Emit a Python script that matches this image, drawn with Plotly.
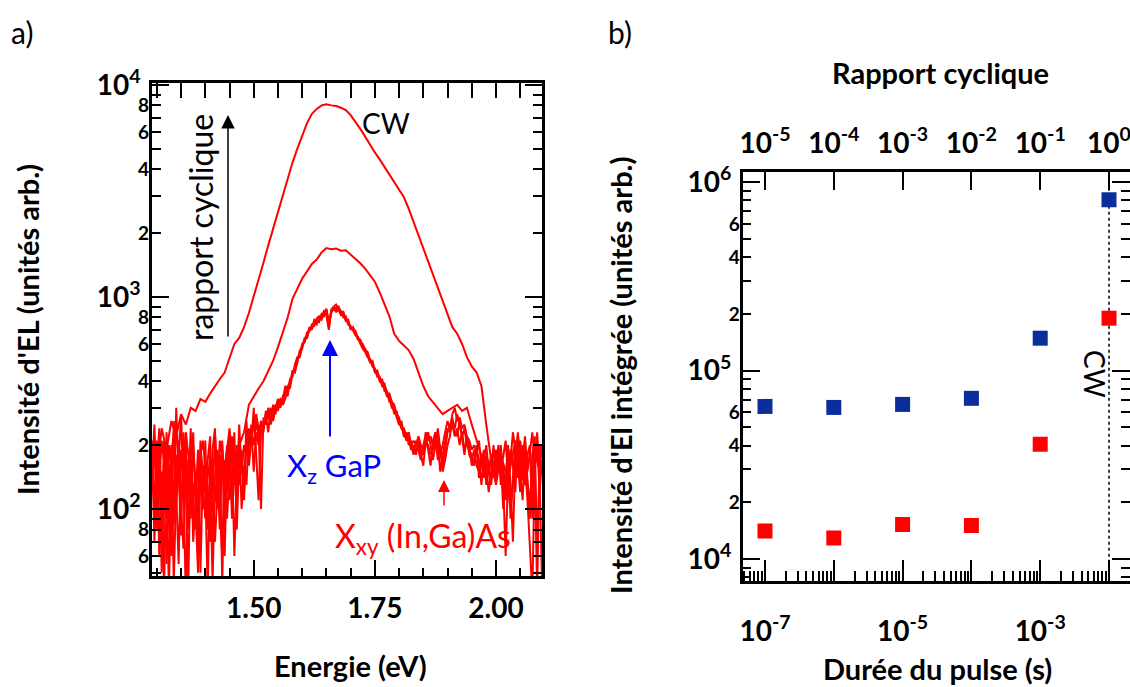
import numpy as np
import plotly.graph_objects as go

# ---------------- data ----------------
# energies (eV)
energy_fine = np.round(np.linspace(1.29, 2.095, 162), 3)   # 0.005 eV grid
energy_coarse = np.round(np.linspace(1.29, 2.09, 81), 3)   # 0.01 eV grid

# EL spectra (arb. units) for the different duty cycles
spec_1e5 = [180, 95, 210, 60, 150, 40, 230, 120, 70, 260, 110,
            55, 190, 140, 35, 170, 90, 200, 130, 60, 150, 100,
            210, 80, 160, 45, 140, 190, 100, 60, 170, 120, 230,
            90, 150, 200, 130, 170, 110, 220, 180, 250, 150, 230,
            200, 260, 240, 280, 230, 300, 270, 290, 320, 300, 340,
            360, 340, 400, 430, 470, 500, 540, 590, 620, 660, 700,
            720, 760, 740, 800, 780, 840, 820, 700, 860, 880, 850,
            870, 820, 830, 790, 760, 720, 700, 680, 640, 620, 590,
            560, 540, 500, 480, 450, 430, 410, 400, 380, 350, 330,
            310, 290, 280, 260, 240, 230, 210, 220, 200, 180, 210,
            190, 170, 200, 220, 190, 160, 210, 230, 200, 150, 180,
            210, 240, 230, 250, 220, 240, 200, 230, 190, 210, 180,
            170, 190, 160, 150, 175, 140, 180, 160, 130, 170, 150,
            190, 130, 160, 110, 180, 90, 140, 210, 170, 120, 200,
            160, 110, 60, 40, 150, 210, 120, 170]
spec_1e4 = [120, 220, 80, 170, 50, 140, 90, 200, 160, 45, 130,
            210, 100, 65, 180, 120, 240, 70, 110, 190, 50, 160,
            130, 40, 180, 110, 220, 150, 80, 200, 130, 90, 160,
            190, 60, 140, 210, 100, 160, 130, 240, 200, 300, 180,
            110, 230, 250, 260, 290, 250, 280, 310, 290, 330, 310,
            330, 370, 390, 450, 440, 490, 560, 570, 640, 650, 720,
            700, 780, 770, 760, 830, 810, 870, 760, 840, 900, 870,
            890, 850, 800, 810, 740, 730, 690, 660, 650, 600, 570,
            550, 520, 510, 470, 460, 420, 420, 380, 370, 340, 340,
            300, 300, 270, 250, 250, 220, 230, 200, 210, 190, 190,
            200, 180, 160, 210, 200, 180, 190, 220, 170, 200, 160,
            190, 230, 250, 260, 240, 280, 250, 220, 240, 200, 190,
            180, 160, 200, 140, 160, 190, 130, 150, 180, 140, 190,
            150, 170, 100, 150, 200, 130, 70, 180, 220, 150, 110,
            190, 140, 100, 180, 220, 60, 150, 200]
spec_1e3 = [200, 70, 160, 240, 90, 180, 55, 130, 200, 85, 300,
            150, 75, 230, 130, 45, 190, 110, 150, 70, 210, 130,
            90, 170, 220, 60, 130, 100, 180, 45, 150, 200, 110,
            140, 230, 80, 170, 190, 120, 260, 160, 210, 250, 280,
            240, 100, 270, 250, 300, 280, 260, 300, 330, 310, 320,
            380, 360, 410, 420, 480, 520, 530, 600, 610, 680, 690,
            740, 730, 790, 810, 800, 860, 850, 720, 870, 900, 920,
            880, 860, 840, 770, 780, 700, 720, 670, 630, 630, 580,
            570, 530, 490, 490, 440, 440, 400, 410, 360, 360, 320,
            320, 280, 290, 250, 260, 220, 220, 210, 190, 200, 180,
            210, 190, 180, 200, 230, 200, 170, 200, 240, 190, 150,
            170, 200, 220, 270, 230, 220, 260, 210, 180, 220, 200,
            160, 170, 190, 170, 130, 180, 160, 120, 150, 200, 140,
            170, 200, 130, 60, 150, 190, 160, 120, 230, 180, 140,
            130, 180, 200, 90, 170, 230, 140, 45]
spec_1e2 = [150, 250, 110, 190, 70, 210, 140, 40, 180, 230, 100,
            170, 280, 120, 200, 80, 140, 230, 100, 50, 180, 210,
            160, 120, 70, 190, 240, 110, 140, 210, 60, 180, 140,
            220, 170, 120, 250, 150, 200, 180, 210, 230, 200, 260,
            220, 260, 230, 290, 270, 260, 310, 280, 320, 330, 310,
            350, 380, 370, 440, 460, 510, 520, 580, 630, 640, 710,
            710, 770, 760, 780, 820, 830, 880, 740, 850, 870, 890,
            900, 840, 850, 780, 770, 710, 710, 690, 640, 610, 600,
            560, 550, 500, 500, 450, 450, 410, 390, 390, 350, 350,
            320, 310, 280, 270, 240, 240, 220, 230, 200, 210, 200,
            220, 200, 190, 230, 210, 220, 200, 210, 230, 180, 200,
            230, 260, 240, 280, 300, 260, 270, 240, 250, 220, 210,
            190, 200, 180, 210, 160, 170, 200, 150, 170, 190, 160,
            200, 150, 180, 210, 140, 170, 230, 190, 140, 210, 170,
            220, 150, 190, 230, 170, 40, 200, 180]
spec_1e1 = [160, 90, 210, 130, 60, 180, 110, 230, 140, 80,
            190, 120, 170, 70, 210, 150, 240, 130, 200, 230,
            310, 340, 370, 400, 450, 500, 580, 680, 800, 980,
            1100, 1220, 1320, 1430, 1500, 1620, 1700, 1680, 1690, 1650,
            1660, 1580, 1520, 1440, 1360, 1270, 1180, 1050, 920, 810,
            670, 620, 590, 560, 510, 440, 380, 340, 320, 300,
            280, 290, 300, 310, 290, 300, 250, 210, 180, 150,
            170, 130, 180, 150, 100, 170, 200, 140, 110, 190,
            150]
spec_cw = [210, 150, 240, 190, 260, 220, 280, 250, 300, 290,
           330, 320, 350, 380, 410, 440, 520, 600, 640, 720,
           840,
           1000, 1200, 1450, 1750, 2100, 2550, 3000, 3600, 4300,
           5000, 5800, 6600, 7300, 7700, 8000, 8100, 8000, 7950, 7800,
           7600, 7200, 6700, 6200, 5700, 5200, 4800, 4450, 4100, 3800,
           3500, 3250, 2950, 2600, 2250, 1950, 1700, 1480, 1280, 1100,
           950, 820, 720, 670, 600, 520, 470, 440, 380, 250,
           170, 140, 190, 120, 160, 210, 130, 180, 90, 200, 160]

# integrated EL vs pulse duration (s); last point = CW
pulse_duration = [1e-7, 1e-6, 1e-5, 1e-4, 1e-3, 1e-2]
integ_gap = [64600, 63800, 66200, 71300, 148600, 805000]      # X_z GaP (blue)
integ_ingaas = [14100, 12970, 15300, 15100, 40700, 189700]    # X_xy (In,Ga)As (red)
duty_factor = 100.0  # rapport cyclique = duree du pulse * 100
duty_cycle = [p * duty_factor for p in pulse_duration]

left_ytick_vals = [1e2, 1e3, 1e4]
left_ytick_text = ["10<sup>2</sup>", "10<sup>3</sup>", "10<sup>4</sup>"]
left_ylab_vals = [60, 80, 200, 400, 600, 800, 2000, 4000, 6000, 8000]
left_ylab_text = ["6", "8", "2", "4", "6", "8", "2", "4", "6", "8"]
left_xtick_vals = [1.50, 1.75, 2.00]
left_xtick_text = ["1.50", "1.75", "2.00"]

right_ytick_vals = [1e4, 1e5, 1e6]
right_ytick_text = ["10<sup>4</sup>", "10<sup>5</sup>", "10<sup>6</sup>"]
right_ylab_vals = [2e4, 4e4, 6e4, 2e5, 4e5, 6e5]
right_ylab_text = ["2", "4", "6", "2", "4", "6"]
bottom_xtick_vals = [1e-7, 1e-6, 1e-5, 1e-4, 1e-3, 1e-2]
bottom_xtick_text = ["10<sup>-7</sup>", "", "10<sup>-5</sup>", "", "10<sup>-3</sup>", ""]
top_xtick_vals = [1e-5, 1e-4, 1e-3, 1e-2, 1e-1, 1e0]
top_xtick_text = ["10<sup>-5</sup>", "10<sup>-4</sup>", "10<sup>-3</sup>",
                  "10<sup>-2</sup>", "10<sup>-1</sup>", "10<sup>0</sup>"]

# ---------------- figure ----------------
W, H = 1130, 687
FONT = "Lato"
RED = "#ff0000"
BLUE_MARK = "#0b2e9c"


def fx(x):
    return x / W


def fy(y):
    return 1 - y / H


def minor_log(lo, hi):
    vals = []
    for d in range(lo, hi + 1):
        for m in range(2, 10):
            vals.append(m * 10.0 ** d)
    return vals


fig = go.Figure()

# spectra; two are attached to the overlay axes (same ranges) so those axes get drawn
spectra = [(energy_fine, spec_1e5, "x", "y3"), (energy_fine, spec_1e4, "x", "y"),
           (energy_fine, spec_1e3, "x", "y"), (energy_fine, spec_1e2, "x", "y"),
           (energy_coarse, spec_1e1, "x", "y"), (energy_coarse, spec_cw, "x4", "y")]
for ex, sy, xa, ya in spectra:
    fig.add_trace(go.Scatter(x=ex, y=sy, mode="lines", line=dict(color=RED, width=2),
                             showlegend=False, hoverinfo="skip", xaxis=xa, yaxis=ya))

# right-panel y range
ry0, ry1 = 3.886, 6.056
fig.add_trace(go.Scatter(x=[pulse_duration[-1]] * 2, y=[10 ** ry0, 10 ** ry1], mode="lines",
                         line=dict(color="black", width=1.5, dash="dot"),
                         showlegend=False, hoverinfo="skip", xaxis="x2", yaxis="y2"))
fig.add_trace(go.Scatter(x=pulse_duration, y=integ_gap, mode="markers",
                         marker=dict(symbol="square", size=15, color=BLUE_MARK),
                         showlegend=False, xaxis="x2", yaxis="y4"))
fig.add_trace(go.Scatter(x=duty_cycle, y=integ_ingaas, mode="markers",
                         marker=dict(symbol="square", size=15, color=RED),
                         showlegend=False, xaxis="x3", yaxis="y2"))

TICK = 28
tickfont = dict(family=FONT, size=TICK, color="black", weight="bold")
minfont = dict(family=FONT, size=19, color="black", weight="bold")

axis_common = dict(showgrid=False, zeroline=False, linecolor="black", linewidth=2.5,
                   tickcolor="black", tickwidth=2, ticks="inside", automargin=False,
                   ticklabeloverflow="allow")

lx0, lx1 = 1.29, 2.095
ly0, ly1 = np.log10(48.3), np.log10(10200)
top_minor = list(np.round(np.arange(1.30, 2.09, 0.05), 2))

fig.update_layout(
    template="none",
    width=W, height=H, paper_bgcolor="white", plot_bgcolor="white",
    margin=dict(l=0, r=0, t=0, b=0, pad=0), showlegend=False,
    xaxis=dict(domain=[fx(152), fx(542)], range=[lx0, lx1], anchor="y",
               showline=True, mirror=True, tickmode="array",
               tickvals=left_xtick_vals, ticktext=left_xtick_text, ticklen=16,
               minor=dict(tickvals=top_minor, ticklen=8, ticks="inside",
                          tickcolor="black", tickwidth=2),
               tickfont=tickfont, ticklabelstandoff=6, **axis_common),
    xaxis4=dict(overlaying="x", side="top", range=[lx0, lx1], anchor="y",
                showline=False, tickmode="array", tickvals=top_minor, ticklen=15,
                showticklabels=False,
                **{k: v for k, v in axis_common.items() if k != "linewidth"}),
    yaxis=dict(domain=[fy(576), fy(83)], type="log", range=[ly0, ly1], anchor="x",
               showline=True, mirror="ticks", tickmode="array",
               tickvals=left_ytick_vals, ticktext=left_ytick_text, ticklen=17,
               minor=dict(tickvals=minor_log(1, 3), ticklen=9, ticks="inside",
                          tickcolor="black", tickwidth=2),
               tickfont=tickfont, ticklabelstandoff=3, **axis_common),
    yaxis3=dict(overlaying="y", side="left", type="log", range=[ly0, ly1], anchor="x",
                showline=False, ticks="", tickmode="array", tickvals=left_ylab_vals,
                ticktext=left_ylab_text, tickfont=minfont, ticklabelstandoff=2,
                showgrid=False, zeroline=False, automargin=False),
    # right panel
    xaxis2=dict(domain=[fx(742.7), 1.0], type="log", range=[-7.324, -1.695], anchor="y2",
                showline=True, mirror=False, tickmode="array",
                tickvals=bottom_xtick_vals, ticktext=bottom_xtick_text, ticklen=21,
                minor=dict(tickvals=minor_log(-8, -3), ticklen=10, ticks="inside",
                           tickcolor="black", tickwidth=2),
                tickfont=tickfont, ticklabelstandoff=24, **axis_common),
    xaxis3=dict(overlaying="x2", side="top", type="log",
                range=[-7.324 + np.log10(duty_factor), -1.695 + np.log10(duty_factor)],
                anchor="y2", showline=True, tickmode="array",
                tickvals=top_xtick_vals, ticktext=top_xtick_text, ticklen=19,
                tickfont=tickfont, ticklabelstandoff=5, **axis_common),
    yaxis2=dict(domain=[fy(580.7), fy(171.5)], type="log", range=[ry0, ry1], anchor="x2",
                showline=True, mirror="ticks", tickmode="array",
                tickvals=right_ytick_vals, ticktext=right_ytick_text, ticklen=18,
                minor=dict(tickvals=minor_log(3, 5), ticklen=9, ticks="inside",
                           tickcolor="black", tickwidth=2),
                tickfont=tickfont, ticklabelstandoff=3, **axis_common),
    yaxis4=dict(overlaying="y2", side="left", type="log", range=[ry0, ry1], anchor="x2",
                showline=False, ticks="", tickmode="array", tickvals=right_ylab_vals,
                ticktext=right_ylab_text, tickfont=minfont, ticklabelstandoff=2,
                showgrid=False, zeroline=False, automargin=False),
)

ann = []


def text(x, y, s, size=29, bold=False, color="black", angle=0):
    ann.append(dict(x=fx(x), y=fy(y), xref="paper", yref="paper", text=s, showarrow=False,
                    xanchor="center", yanchor="middle", textangle=angle,
                    font=dict(family=FONT, size=size, color=color,
                              weight="bold" if bold else "normal")))


def arrow(x, ytip, ytail, color, width=1.5, size=2.0):
    ann.append(dict(x=fx(x), y=fy(ytip), xref="paper", yref="paper", text="",
                    showarrow=True, ax=0, ay=ytail - ytip, arrowhead=2,
                    arrowsize=size, arrowwidth=width, arrowcolor=color))


text(22, 32, "a)", size=30)
text(620, 32, "b)", size=30)
text(27, 330, "Intensité d'EL (unités arb.)", bold=True, angle=-90)
text(350, 665, "Energie (eV)", bold=True)
text(620, 376, "Intensité d'El intégrée (unités arb.)", bold=True, angle=-90)
text(937, 668, "Durée du pulse (s)", bold=True)
text(940, 72, "Rapport cyclique", bold=True)
text(386, 123, "CW", size=28)
text(200, 228, "rapport cyclique", size=32, angle=-90)
text(334, 467, "X<sub>z</sub> GaP", size=31, color="#0000ff")
text(423, 538, "X<sub>xy</sub> (In,Ga)As", size=32, color=RED)
text(1095, 374, "CW", size=28, angle=90)
arrow(228, 115, 338, "black", width=1.5, size=1.8)
arrow(330, 340, 438, "#0000ff", width=2, size=1.6)
arrow(444, 480, 507, RED, width=1.5, size=1.6)

fig.update_layout(annotations=ann)
fig.write_html("out.html",
               config={"displayModeBar": False},
               post_script="document.body.style.margin='0px';"
                           "document.body.style.overflow='hidden';")
